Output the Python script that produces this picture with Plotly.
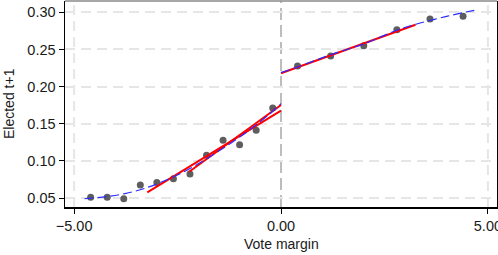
import plotly.graph_objects as go

# binned scatter (vote margin bins, share elected t+1)
bin_x_left = [-4.6, -4.2, -3.8, -3.4, -3.0, -2.6, -2.2, -1.8, -1.4, -1.0, -0.6, -0.2]
bin_y_left = [0.0509, 0.0509, 0.0491, 0.0675, 0.0709, 0.0760, 0.0823, 0.1075, 0.1277, 0.1218, 0.1412, 0.1712]
bin_x_right = [0.4, 1.2, 2.0, 2.8, 3.6, 4.4]
bin_y_right = [0.2277, 0.2412, 0.2550, 0.2766, 0.2910, 0.2946]

# global polynomial fit (blue dashed)
poly_x_left = [-4.75, -4.2, -3.77, -3.24, -2.58, -2.0, -1.4, -0.8, -0.3, 0.0]
poly_y_left = [0.049, 0.052, 0.056, 0.064, 0.079, 0.096, 0.117, 0.140, 0.162, 0.177]
poly_x_right = [0.0, 0.42, 1.18, 1.99, 2.77, 3.28, 4.0, 4.67]
poly_y_right = [0.2187, 0.2268, 0.2425, 0.2573, 0.2752, 0.2842, 0.2945, 0.3027]

# local linear fits (red)
lin1_x_left = [-3.23, 0.0]
lin1_y_left = [0.0577, 0.1675]
lin2_x_left = [-2.22, 0.0]
lin2_y_left = [0.0854, 0.1752]
lin_x_right = [0.0, 3.25]
lin_y_right = [0.2179, 0.2833]

x_ticks = [-5, 0, 5]
y_ticks = [0.05, 0.10, 0.15, 0.20, 0.25, 0.30]

FONT = "Liberation Sans, Arial, Helvetica, sans-serif"
BLUE = "#2b2bff"
RED = "#ff0000"
GREY = "#5e5e5e"
TXT = "#1a1a1a"
GRID = "#e6e6e6"

fig = go.Figure()

for xs, ys in [(bin_x_left, bin_y_left), (bin_x_right, bin_y_right)]:
    fig.add_trace(go.Scatter(x=xs, y=ys, mode="markers",
                             marker=dict(color=GREY, size=7, line=dict(width=0)),
                             showlegend=False, hoverinfo="skip"))

for xs, ys in [(lin1_x_left, lin1_y_left), (lin2_x_left, lin2_y_left), (lin_x_right, lin_y_right)]:
    fig.add_trace(go.Scatter(x=xs, y=ys, mode="lines",
                             line=dict(color=RED, width=2),
                             showlegend=False, hoverinfo="skip"))

for xs, ys in [(poly_x_left, poly_y_left), (poly_x_right, poly_y_right)]:
    fig.add_trace(go.Scatter(x=xs, y=ys, mode="lines",
                             line=dict(color=BLUE, width=1.2, dash="9px,4px", shape="spline", smoothing=1.0),
                             showlegend=False, hoverinfo="skip"))

# vertical grid lines at the outer ticks, darker cutoff line at 0
for xv in [x_ticks[0], x_ticks[2]]:
    fig.add_shape(type="line", xref="x", yref="paper", x0=xv, x1=xv, y0=0, y1=1,
                  line=dict(color=GRID, width=2, dash="10px,6px"), layer="below")
fig.add_shape(type="line", xref="x", yref="paper", x0=0, x1=0, y0=0, y1=1,
              line=dict(color="#bdbdbd", width=2, dash="12px,5px"), layer="below")
fig.add_shape(type="line", xref="paper", yref="paper", x0=0, x1=1, y0=1, y1=1,
              line=dict(color="#8a8a8a", width=1.5))

fig.add_annotation(text="Vote margin", xref="paper", yref="paper", x=0.5, y=0,
                   xanchor="center", yanchor="middle", yshift=-37, showarrow=False,
                   font=dict(size=14, family=FONT, color=TXT))
fig.add_annotation(text="Elected t+1", xref="paper", yref="paper", x=0, y=0.5,
                   xanchor="center", yanchor="middle", xshift=-56, textangle=-90, showarrow=False,
                   font=dict(size=14, family=FONT, color=TXT))

fig.update_layout(
    width=498, height=255,
    margin=dict(l=65, r=1, t=1, b=48),
    paper_bgcolor="white", plot_bgcolor="white",
    font=dict(family=FONT, color=TXT),
    showlegend=False,
    hovermode=False,
)
fig.update_xaxes(
    range=[-5.22, 5.22], tickvals=x_ticks, tickformat=".2f", automargin=False,
    ticklabeloverflow="allow",
    showgrid=False, zeroline=False, showline=True, linecolor="black", linewidth=1.5,
    ticks="outside", ticklen=5, tickcolor="black", tickwidth=1,
    tickfont=dict(size=14.5, family=FONT, color=TXT),
)
fig.update_yaxes(
    range=[0.0379, 0.3152], tickvals=y_ticks, tickformat=".2f", automargin=False,
    showgrid=True, gridcolor=GRID, gridwidth=2, griddash="10px,6px",
    zeroline=False, showline=True, linecolor="black", linewidth=1.5, mirror=True,
    ticks="outside", ticklen=5, tickcolor="black", tickwidth=1,
    tickfont=dict(size=14.5, family=FONT, color=TXT),
)

fig.write_html("out.html", config={"displayModeBar": False, "staticPlot": True},
               post_script="document.body.style.margin='0';document.body.style.overflow='hidden';")
